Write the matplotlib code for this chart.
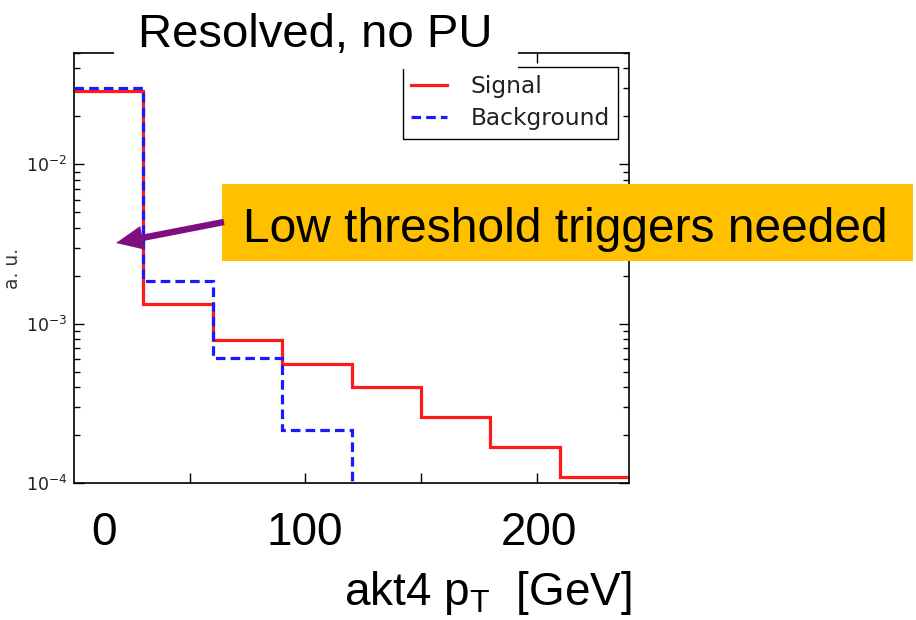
import numpy as np
import matplotlib
matplotlib.use("Agg")
import matplotlib.pyplot as plt
from matplotlib.patches import Rectangle, FancyArrow
from matplotlib.transforms import IdentityTransform
from matplotlib.ticker import LogLocator, NullFormatter, FixedLocator

# Jet pT binning (GeV) and normalised yields per bin
bin_edges = [0, 30, 60, 90, 120, 150, 180, 210, 240]
signal = [0.029, 1.32e-3, 7.9e-4, 5.6e-4, 3.98e-4, 2.6e-4, 1.68e-4, 1.09e-4]
background = [0.030, 1.84e-3, 6.1e-4, 2.15e-4, 0, 0, 0, 0]

x_ticks = [50, 100, 150, 200]
x_label_pos = [13, 100, 201]
x_label_text = ["0", "100", "200"]

plt.rcParams["mathtext.rm"] = "Liberation Sans"
plt.rcParams["mathtext.it"] = "Liberation Sans:italic"

W, H = 916, 620
fig = plt.figure(figsize=(W / 100, H / 100), dpi=100)
fig.patch.set_facecolor("white")


def fx(px):
    return px / W


def fy(py):
    return 1 - py / H


ax = fig.add_axes([fx(74), fy(483), fx(629) - fx(74), fy(53) - fy(483)])
ax.set_yscale("log")

ax.stairs(signal, bin_edges, baseline=None, color="#ff1a1a", lw=2.3,
          label="Signal", zorder=2)
ax.stairs(background, bin_edges, baseline=None, color="#1a1aff", lw=2.3,
          ls=(0, (3, 1.6)), label="Background", zorder=3)

ax.set_xlim(0, 240)
ax.set_ylim(1e-4, 0.05)

for s in ax.spines.values():
    s.set_linewidth(1.2)
    s.set_color("black")

ax.xaxis.set_major_locator(FixedLocator(x_ticks))
ax.yaxis.set_major_locator(LogLocator(base=10))
ax.yaxis.set_minor_locator(LogLocator(base=10, subs=np.arange(2, 10)))
ax.yaxis.set_minor_formatter(NullFormatter())
ax.tick_params(which="both", direction="in", top=True, right=True,
               labelbottom=False, width=1.0, color="black")
ax.tick_params(which="major", length=7)
ax.tick_params(which="minor", length=4)
ax.tick_params(axis="y", labelsize=12.5, labelcolor="#222222", pad=5)

leg = ax.legend(loc="upper right", bbox_to_anchor=(fx(618), fy(67)),
                bbox_transform=fig.transFigure, borderaxespad=0,
                fontsize=16.8, fancybox=False, framealpha=1,
                edgecolor="black", handlelength=1.55, handletextpad=1.0,
                labelspacing=0.4, borderpad=0.35)
leg.get_frame().set_linewidth(1.0)
for t in leg.get_texts():
    t.set_color("#222222")

# y-axis label
fig.text(fx(13), fy(268), "a. u.", rotation=90, ha="center", va="center",
         fontsize=13.5, color="#333333")

# large slide-style x labels
for xp, lab in zip(x_label_pos, x_label_text):
    ax.text(xp, (483 - 545) / 430, lab, transform=ax.get_xaxis_transform(),
            ha="center", va="baseline", fontsize=33,
            family="Liberation Sans", color="black", clip_on=False)

fig.text(fx(632), fy(605), r"akt4 p$_\mathrm{T}$  [GeV]", ha="right",
         va="baseline", fontsize=33, family="Liberation Sans",
         math_fontfamily="custom", color="black")

# title with white backing strip over the frame
fig.patches.append(Rectangle((fx(114), fy(69)), fx(518) - fx(114),
                             fy(30) - fy(69), transform=fig.transFigure,
                             facecolor="white", edgecolor="none", zorder=5))
fig.text(fx(315), fy(47), "Resolved, no PU", ha="center", va="baseline",
         fontsize=34, family="Liberation Sans", color="black", zorder=6)

# callout box and arrow
fig.patches.append(Rectangle((fx(222), fy(261)), fx(913) - fx(222),
                             fy(184) - fy(261), transform=fig.transFigure,
                             facecolor="#FFC000", edgecolor="none", zorder=5))
fig.text(fx(243), fy(242), "Low threshold triggers needed", ha="left",
         va="baseline", fontsize=34.5, family="Liberation Sans",
         color="black", zorder=6)

x0, y0 = 224, H - 222
x1, y1 = 116, H - 243
fig.patches.append(FancyArrow(x0, y0, x1 - x0, y1 - y0, width=6.5,
                              head_width=24, head_length=27,
                              length_includes_head=True,
                              transform=IdentityTransform(),
                              facecolor="#7E0F80", edgecolor="none",
                              zorder=6))

fig.savefig("out.png", dpi=100, facecolor="white")
